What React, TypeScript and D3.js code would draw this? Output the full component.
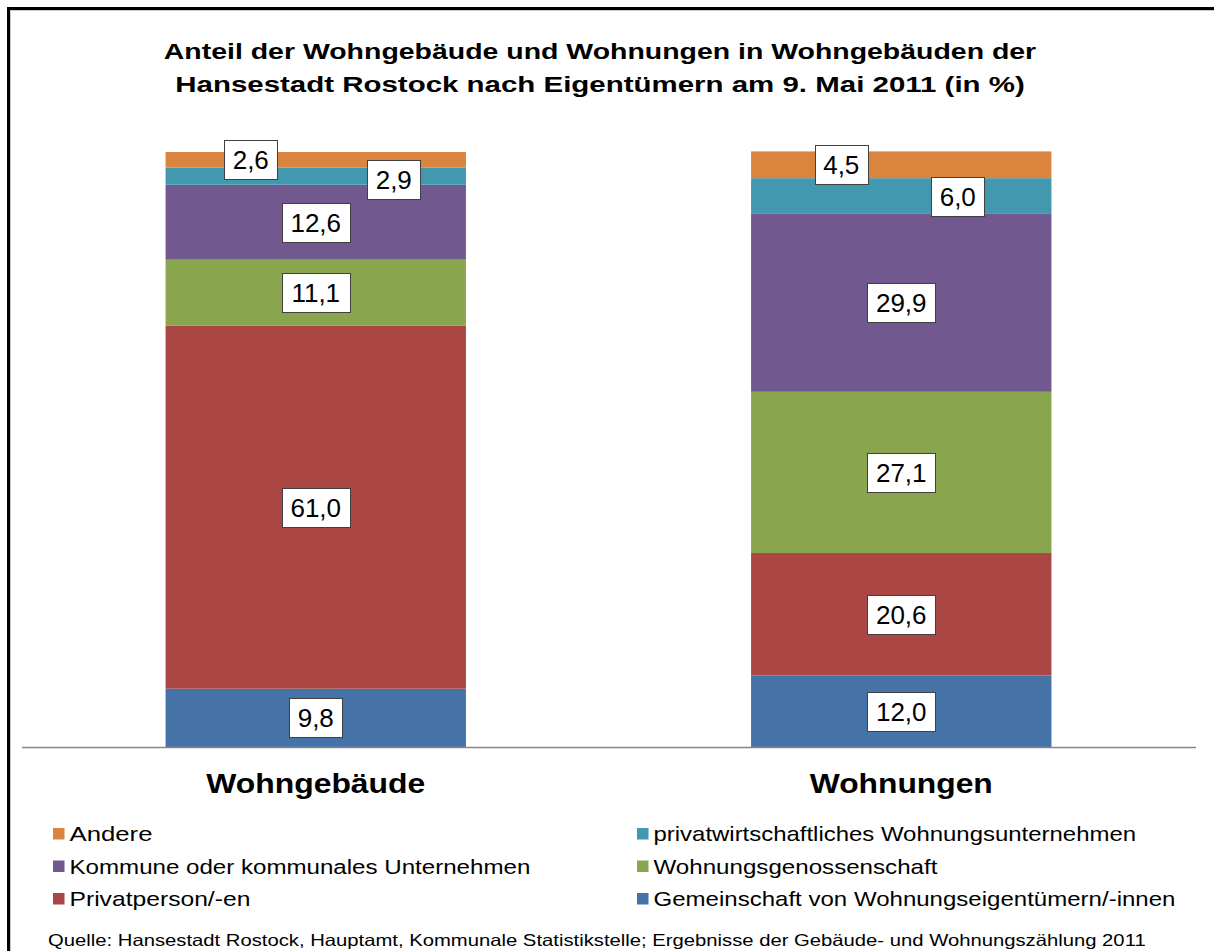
import React, { useLayoutEffect, useRef } from 'react';
import * as d3 from 'd3';

const categories = ['Wohngebäude', 'Wohnungen'];

// stack order bottom -> top
const seriesNames = [
  'Gemeinschaft von Wohnungseigentümern/-innen',
  'Privatperson/-en',
  'Wohnungsgenossenschaft',
  'Kommune oder kommunales Unternehmen',
  'privatwirtschaftliches Wohnungsunternehmen',
  'Andere',
];
const seriesColors = ['#4572A7', '#AA4643', '#89A54E', '#71588F', '#4198AF', '#DB843D'];

const wohngebaeude = [9.8, 61.0, 11.1, 12.6, 2.9, 2.6];
const wohnungen = [12.0, 20.6, 27.1, 29.9, 6.0, 4.5];

// legend reads row by row from the top series down
const legendOrder = [
  'Andere',
  'privatwirtschaftliches Wohnungsunternehmen',
  'Kommune oder kommunales Unternehmen',
  'Wohnungsgenossenschaft',
  'Privatperson/-en',
  'Gemeinschaft von Wohnungseigentümern/-innen',
];

const titleLines = [
  'Anteil der Wohngebäude und Wohnungen in Wohngebäuden der',
  'Hansestadt Rostock nach Eigentümern am 9. Mai 2011 (in %)',
];
const sourceText =
  'Quelle: Hansestadt Rostock, Hauptamt, Kommunale Statistikstelle; Ergebnisse der Gebäude- und Wohnungszählung 2011';

// the original picture is stretched horizontally, so text widths are pinned
const titleWidths = [873, 850];
const categoryWidths: Record<string, number> = { 'Wohngebäude': 219, 'Wohnungen': 183 };
const legendWidths: Record<string, number> = {
  'Andere': 83,
  'Kommune oder kommunales Unternehmen': 461,
  'Privatperson/-en': 181,
  'privatwirtschaftliches Wohnungsunternehmen': 483,
  'Wohnungsgenossenschaft': 284,
  'Gemeinschaft von Wohnungseigentümern/-innen': 522,
};

// manual nudges for the small labels (Excel moved them off-center)
const labelNudge: Record<string, [number, number]> = {
  'Wohngebäude|Andere': [-65, 0],
  'Wohngebäude|privatwirtschaftliches Wohnungsunternehmen': [78, 3.5],
  'Wohnungen|Andere': [-60, 0],
  'Wohnungen|privatwirtschaftliches Wohnungsunternehmen': [56.5, 0.7],
};

const W = 1214;
const H = 951;
const FONT = '"Liberation Sans", Arial, Helvetica, sans-serif';
const de = d3.formatLocale({ decimal: ',', thousands: '.', grouping: [3], currency: ['', ' €'] });
const fmt = de.format('.1f');

const charW = (s: string) => s.split('').reduce((a, c) => a + (c === ',' ? 0.278 : 0.556), 0);

// text that gets stretched horizontally to a given width
function WideText(props: {
  x: number;
  y: number;
  width: number;
  size: number;
  bold?: boolean;
  anchor?: 'start' | 'middle';
  children: string;
}) {
  const ref = useRef<SVGTextElement>(null);
  useLayoutEffect(() => {
    const el = ref.current;
    if (!el) return;
    const w = el.getComputedTextLength();
    const k = w > 0 ? props.width / w : 1;
    el.setAttribute('transform', `translate(${props.x},${props.y}) scale(${k},1)`);
  }, [props.x, props.y, props.width, props.children]);
  return (
    <text
      ref={ref}
      transform={`translate(${props.x},${props.y})`}
      textAnchor={props.anchor || 'start'}
      fontWeight={props.bold ? 'bold' : 'normal'}
      fontSize={props.size}
      fill="#000"
    >
      {props.children}
    </text>
  );
}

export default function App() {
  const rows = categories.map((c, i) => {
    const vals = i === 0 ? wohngebaeude : wohnungen;
    const r: any = { cat: c };
    seriesNames.forEach((s, j) => (r[s] = vals[j]));
    return r;
  });
  const stacked = d3.stack<any>().keys(seriesNames)(rows);

  const x = d3.scaleBand<string>().domain(categories).range([23, 1194]).paddingInner(0.487).paddingOuter(0.2435);
  const y = d3.scaleLinear().domain([0, 100]).range([747, 152]);
  const color = d3.scaleOrdinal<string, string>().domain(seriesNames).range(seriesColors);

  const bw = x.bandwidth();

  return (
    <svg width={W} height={H} style={{ position: 'absolute', left: 0, top: 0, background: '#fff' }} fontFamily={FONT}>
      <rect x={0} y={0} width={W} height={H} fill="#fff" />
      {/* chart frame (cropped on right/bottom) */}
      <path d={`M10.5,${H + 10} V10.5 H${W + 10}`} fill="none" stroke="#c8c8c8" strokeWidth={1} />
      <path d={`M8.5,${H + 10} V8.5 H${W + 10}`} fill="none" stroke="#000" strokeWidth={3} />

      {titleLines.map((t, i) => (
        <WideText key={i} x={600} y={59 + i * 33} width={titleWidths[i]} size={22.5} bold anchor="middle">
          {t}
        </WideText>
      ))}

      {stacked.map((layer) => (
        <g key={layer.key} fill={color(layer.key)}>
          {layer.map((d) => (
            <rect
              key={d.data.cat}
              x={x(d.data.cat)}
              y={y(d[1])}
              width={bw}
              height={y(d[0]) - y(d[1])}
            />
          ))}
        </g>
      ))}

      <line x1={22} x2={1196} y1={747.5} y2={747.5} stroke="#868686" strokeWidth={1.5} />

      {stacked.map((layer) =>
        layer.map((d) => {
          const v = d[1] - d[0];
          const label = fmt(v);
          const fs = 26;
          const bwid = charW(label) * fs + 17;
          const bh = 39;
          const nudge = labelNudge[`${d.data.cat}|${layer.key}`] || [0, 0];
          const cx = (x(d.data.cat) as number) + bw / 2 + nudge[0];
          const cy = (y(d[0]) + y(d[1])) / 2 + nudge[1];
          return (
            <g key={layer.key + d.data.cat}>
              <rect
                x={Math.round(cx - bwid / 2) + 0.5}
                y={Math.round(cy - bh / 2) + 0.5}
                width={Math.round(bwid)}
                height={bh}
                fill="#fff"
                stroke="#404040"
                strokeWidth={1}
              />
              <text x={cx} y={cy} dy="0.36em" textAnchor="middle" fontSize={fs} fill="#000">
                {label}
              </text>
            </g>
          );
        })
      )}

      {categories.map((c) => (
        <WideText key={c} x={(x(c) as number) + bw / 2} y={793} width={categoryWidths[c]} size={28} bold anchor="middle">
          {c}
        </WideText>
      ))}

      {legendOrder.map((s, i) => {
        const col = i % 2;
        const row = Math.floor(i / 2);
        const lx = col === 0 ? 53 : 637;
        const base = [841, 873.5, 906][row];
        return (
          <g key={s}>
            <rect x={lx} y={base - 13} width={11.5} height={11.5} fill={color(s)} />
            <WideText x={lx + 16.5} y={base} width={legendWidths[s]} size={20}>
              {s}
            </WideText>
          </g>
        );
      })}

      <WideText x={48} y={946} width={1097} size={16.3}>
        {sourceText}
      </WideText>
    </svg>
  );
}
